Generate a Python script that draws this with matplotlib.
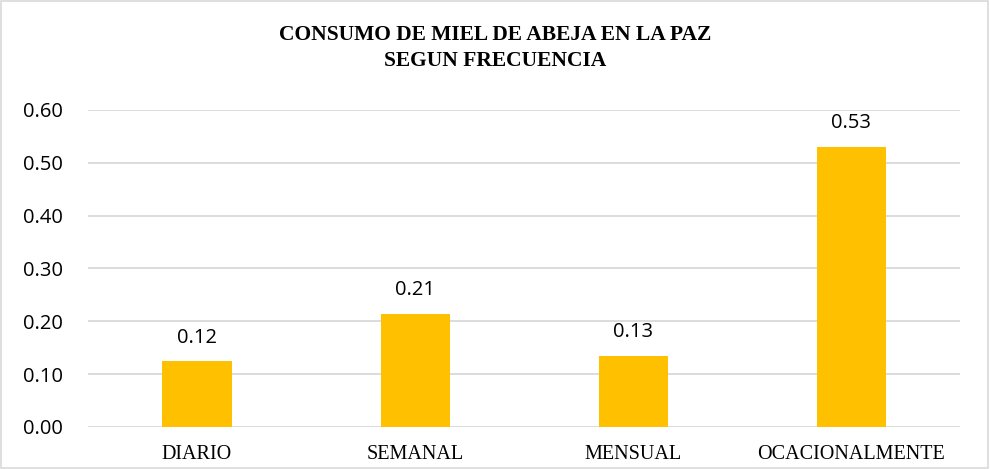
import matplotlib.pyplot as plt
from matplotlib.patches import Rectangle

categorias = ['DIARIO', 'SEMANAL', 'MENSUAL', 'OCACIONALMENTE']
valores = [0.124, 0.214, 0.134, 0.53]
yticks = [0.0, 0.1, 0.2, 0.3, 0.4, 0.5, 0.6]

fig = plt.figure(figsize=(9.9, 4.69), dpi=100)
ax = fig.add_axes([0.0889, 0.0896, 0.881, 0.676])

x = range(len(categorias))
bars = ax.bar(x, valores, width=0.317, color='#FFC000', zorder=3)

for b, v in zip(bars, valores):
    ax.annotate(f'{v:.2f}', (b.get_x() + b.get_width() / 2, v),
                xytext=(0, 10), textcoords='offset points',
                ha='center', va='bottom', family='Open Sans', size=14.5, color='#000000')

ax.set_xlim(-0.5, 3.5)
ax.set_ylim(0, 0.6)
ax.set_yticks(yticks)
ax.set_yticklabels([f'{t:.2f}' for t in yticks], family='Open Sans', size=14.5)
ax.set_xticks(list(x))
ax.set_xticklabels(categorias, family='Liberation Serif', size=14.5)
ax.tick_params(axis='x', length=0, pad=13)
ax.tick_params(axis='y', length=0, pad=18)
for s in ax.spines.values():
    s.set_visible(False)
ax.grid(axis='y', color='#d9d9d9', linewidth=1.3, zorder=0)
ax.set_axisbelow(True)

fig.text(0.5, 0.898, 'CONSUMO DE MIEL DE ABEJA EN LA PAZ\nSEGUN FRECUENCIA',
         ha='center', va='center', family='Liberation Serif', weight='bold',
         size=15.5, linespacing=1.4)

fig.patches.append(Rectangle((0.001, 0.002), 0.997, 0.995, transform=fig.transFigure,
                             fill=False, edgecolor='#d9d9d9', linewidth=1.2))

fig.savefig('out.png')
